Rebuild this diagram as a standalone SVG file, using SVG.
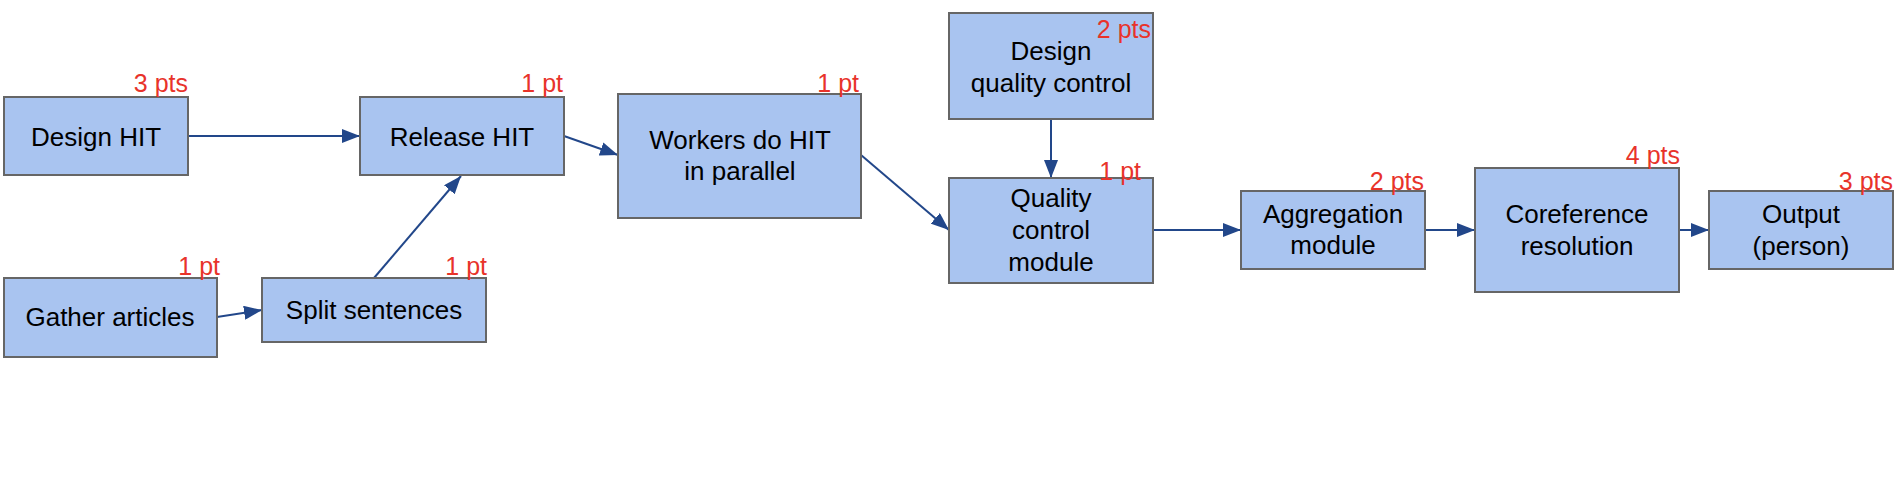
<svg xmlns="http://www.w3.org/2000/svg" width="1904" height="478" viewBox="0 0 1904 478">
<defs>
<style>
.box{fill:#a9c4f0;stroke:#666666;stroke-width:2}
.t{font-family:"Liberation Sans",Arial,sans-serif;font-size:26px;fill:#000;text-anchor:middle}
.p{font-family:"Liberation Sans",Arial,sans-serif;font-size:25px;fill:#e8332a;text-anchor:end}
.c{fill:none;stroke:#22478a;stroke-width:2}
</style>
<marker id="ah" viewBox="0 0 18 14" refX="18" refY="7" markerWidth="18" markerHeight="14" markerUnits="userSpaceOnUse" orient="auto">
<path d="M0,0 L18,7 L0,14 Z" fill="#22478a"/>
</marker>
</defs>
<rect width="1904" height="478" fill="#ffffff"/>
<g id="connectors">
<line class="c" x1="188" y1="136" x2="360" y2="136" marker-end="url(#ah)"/>
<line class="c" x1="217" y1="317" x2="262" y2="310" marker-end="url(#ah)"/>
<line class="c" x1="374" y1="278" x2="461" y2="176" marker-end="url(#ah)"/>
<line class="c" x1="564" y1="136" x2="618" y2="155" marker-end="url(#ah)"/>
<line class="c" x1="861" y1="155" x2="949" y2="230" marker-end="url(#ah)"/>
<line class="c" x1="1051" y1="119" x2="1051" y2="178" marker-end="url(#ah)"/>
<line class="c" x1="1153" y1="230" x2="1241" y2="230" marker-end="url(#ah)"/>
<line class="c" x1="1425" y1="230" x2="1475" y2="230" marker-end="url(#ah)"/>
<line class="c" x1="1679" y1="230" x2="1709" y2="230" marker-end="url(#ah)"/>
</g>
<g id="design-hit">
<rect class="box" x="4" y="97" width="184" height="78"/>
<text class="t" x="96" y="146">Design HIT</text>
<text class="p" x="188" y="92">3 pts</text>
</g>
<g id="release-hit">
<rect class="box" x="360" y="97" width="204" height="78"/>
<text class="t" x="462" y="146">Release HIT</text>
<text class="p" x="563" y="92">1 pt</text>
</g>
<g id="gather-articles">
<rect class="box" x="4" y="278" width="213" height="79"/>
<text class="t" x="110" y="326">Gather articles</text>
<text class="p" x="220" y="275">1 pt</text>
</g>
<g id="split-sentences">
<rect class="box" x="262" y="278" width="224" height="64"/>
<text class="t" x="374" y="319">Split sentences</text>
<text class="p" x="487" y="275">1 pt</text>
</g>
<g id="workers">
<rect class="box" x="618" y="94" width="243" height="124"/>
<text class="t" x="740" y="149">Workers do HIT</text>
<text class="t" x="740" y="180">in parallel</text>
<text class="p" x="859" y="92">1 pt</text>
</g>
<g id="design-qc">
<rect class="box" x="949" y="13" width="204" height="106"/>
<text class="t" x="1051" y="60">Design</text>
<text class="t" x="1051" y="92">quality control</text>
<text class="p" x="1151" y="38">2 pts</text>
</g>
<g id="qc-module">
<rect class="box" x="949" y="178" width="204" height="105"/>
<text class="t" x="1051" y="207">Quality</text>
<text class="t" x="1051" y="239">control</text>
<text class="t" x="1051" y="271">module</text>
<text class="p" x="1141" y="180">1 pt</text>
</g>
<g id="aggregation">
<rect class="box" x="1241" y="191" width="184" height="78"/>
<text class="t" x="1333" y="223">Aggregation</text>
<text class="t" x="1333" y="254">module</text>
<text class="p" x="1424" y="190">2 pts</text>
</g>
<g id="coreference">
<rect class="box" x="1475" y="168" width="204" height="124"/>
<text class="t" x="1577" y="223">Coreference</text>
<text class="t" x="1577" y="255">resolution</text>
<text class="p" x="1680" y="164">4 pts</text>
</g>
<g id="output">
<rect class="box" x="1709" y="191" width="184" height="78"/>
<text class="t" x="1801" y="223">Output</text>
<text class="t" x="1801" y="255">(person)</text>
<text class="p" x="1893" y="190">3 pts</text>
</g>
</svg>
